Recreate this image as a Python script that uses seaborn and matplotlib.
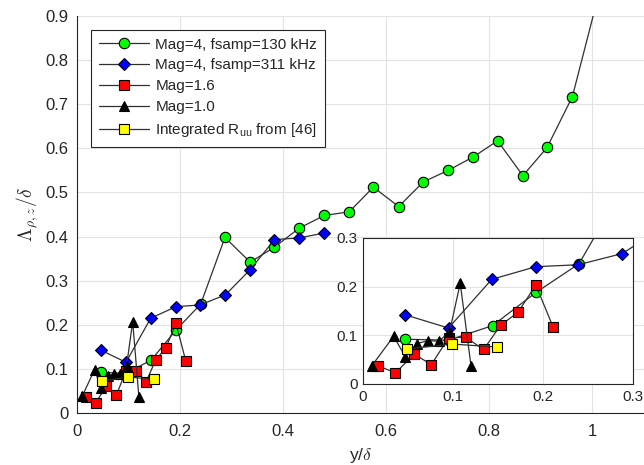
import numpy as np
import pandas as pd
import matplotlib
matplotlib.use("Agg")
import matplotlib.pyplot as plt
import seaborn as sns

# ---- data: integral length scale vs wall distance ----
mag4_130_x = [0.047, 0.095, 0.144, 0.192, 0.240, 0.287, 0.336, 0.383, 0.431, 0.480, 0.528,
              0.575, 0.624, 0.672, 0.720, 0.768, 0.816, 0.865, 0.912, 0.961, 1.009]
mag4_130_y = [0.092, 0.090, 0.120, 0.188, 0.247, 0.398, 0.342, 0.376, 0.419, 0.448, 0.456,
              0.512, 0.468, 0.524, 0.550, 0.580, 0.617, 0.538, 0.602, 0.717, 0.935]

mag4_311_x = [0.047, 0.095, 0.143, 0.192, 0.239, 0.288, 0.336, 0.383, 0.431, 0.480]
mag4_311_y = [0.142, 0.115, 0.215, 0.241, 0.245, 0.268, 0.325, 0.393, 0.397, 0.408]

mag16_x = [0.017, 0.036, 0.057, 0.076, 0.095, 0.114, 0.134, 0.153, 0.172, 0.192, 0.211]
mag16_y = [0.037, 0.023, 0.061, 0.040, 0.095, 0.096, 0.071, 0.121, 0.147, 0.203, 0.118]

mag10_x = [0.010, 0.034, 0.047, 0.060, 0.072, 0.084, 0.096, 0.108, 0.120]
mag10_y = [0.038, 0.098, 0.056, 0.083, 0.089, 0.088, 0.106, 0.207, 0.037]

ruu_x = [0.049, 0.099, 0.149]
ruu_y = [0.072, 0.082, 0.076]

labels = ["Mag=4, fsamp=130 kHz", "Mag=4, fsamp=311 kHz", "Mag=1.6", "Mag=1.0",
          r"Integrated R$_{\mathregular{uu}}$ from [46]"]

series = [
    (mag4_130_x, mag4_130_y, "o", "#00ff00", 7.5),
    (mag4_311_x, mag4_311_y, "D", "#0000ff", 6.5),
    (mag16_x, mag16_y, "s", "#ff0000", 6.5),
    (mag10_x, mag10_y, "^", "#000000", 7.5),
    (ruu_x, ruu_y, "s", "#ffff00", 6.5),
]

sns.set_style("white")
plt.rcParams["font.family"] = ["Liberation Sans", "DejaVu Sans"]
plt.rcParams["mathtext.fontset"] = "custom"
plt.rcParams["mathtext.rm"] = "Liberation Sans"
plt.rcParams["mathtext.it"] = "Liberation Sans:italic"

TXT = "#262626"
GRID = "#e3e3e3"

fig = plt.figure(figsize=(6.44, 4.65), dpi=100)
ax = fig.add_axes([0.1196, 0.1118, 0.8804, 0.8538])
ins = fig.add_axes([0.5637, 0.1742, 0.4193, 0.3140])


def draw(axis, with_labels):
    for (xs, ys, mk, fc, ms), lab in zip(series, labels):
        df = pd.DataFrame({"x": xs, "y": ys})
        sns.lineplot(data=df, x="x", y="y", ax=axis, sort=False, estimator=None,
                     color="#303030", linewidth=0.9, marker=mk, markersize=ms,
                     markerfacecolor=fc, markeredgecolor="black", markeredgewidth=0.8,
                     label=lab if with_labels else None, legend=False)


draw(ax, True)
draw(ins, False)

# main axes
ax.set_xlim(0, 1.1)
ax.set_ylim(0, 0.9)
ax.set_xticks(np.arange(0, 1.01, 0.2))
ax.set_yticks(np.arange(0, 0.91, 0.1))
ax.set_xticklabels([f"{v:g}" for v in np.round(np.arange(0, 1.01, 0.2), 1)])
ax.set_yticklabels([f"{v:g}" for v in np.round(np.arange(0, 0.91, 0.1), 1)])
ax.grid(True, color=GRID, linewidth=0.8)
ax.set_axisbelow(True)
for s in ["top", "right"]:
    ax.spines[s].set_visible(False)
for s in ["left", "bottom"]:
    ax.spines[s].set_color(TXT)
    ax.spines[s].set_linewidth(0.8)
ax.tick_params(direction="in", length=4, width=0.8, colors=TXT, labelsize=12,
               labelcolor=TXT)
ax.tick_params(axis="x", pad=8)
ax.tick_params(axis="y", pad=6)
ax.set_xlabel(r"y/$\delta$", fontsize=12.5, color=TXT, math_fontfamily="cm", labelpad=5)
ax.set_ylabel(r"$\Lambda_{\rho,z}/\delta$", fontsize=14, color=TXT, math_fontfamily="cm",
              labelpad=4)

leg = ax.legend(loc="upper left", bbox_to_anchor=(0.025, 0.965), borderaxespad=0,
                frameon=True, fancybox=False, fontsize=11, handlelength=3.3,
                handletextpad=0.4, labelspacing=0.45, borderpad=0.5)
leg.get_frame().set_edgecolor(TXT)
leg.get_frame().set_linewidth(0.8)
leg.get_frame().set_alpha(1)
for t in leg.get_texts():
    t.set_color(TXT)

# inset axes
ins.set_xlim(0, 0.3)
ins.set_ylim(0, 0.3)
tv = np.round(np.arange(0, 0.31, 0.1), 1)
ins.set_xticks(tv)
ins.set_yticks(tv)
ins.set_xticklabels([f"{v:g}" for v in tv])
ins.set_yticklabels([f"{v:g}" for v in tv])
ins.set_xlabel("")
ins.set_ylabel("")
ins.grid(True, color=GRID, linewidth=0.8)
ins.set_axisbelow(True)
for s in ins.spines.values():
    s.set_color(TXT)
    s.set_linewidth(0.8)
    s.set_visible(True)
ins.tick_params(direction="in", length=3, width=0.8, colors=TXT, labelsize=11,
                labelcolor=TXT, pad=4)

fig.savefig("out.png", dpi=100)
